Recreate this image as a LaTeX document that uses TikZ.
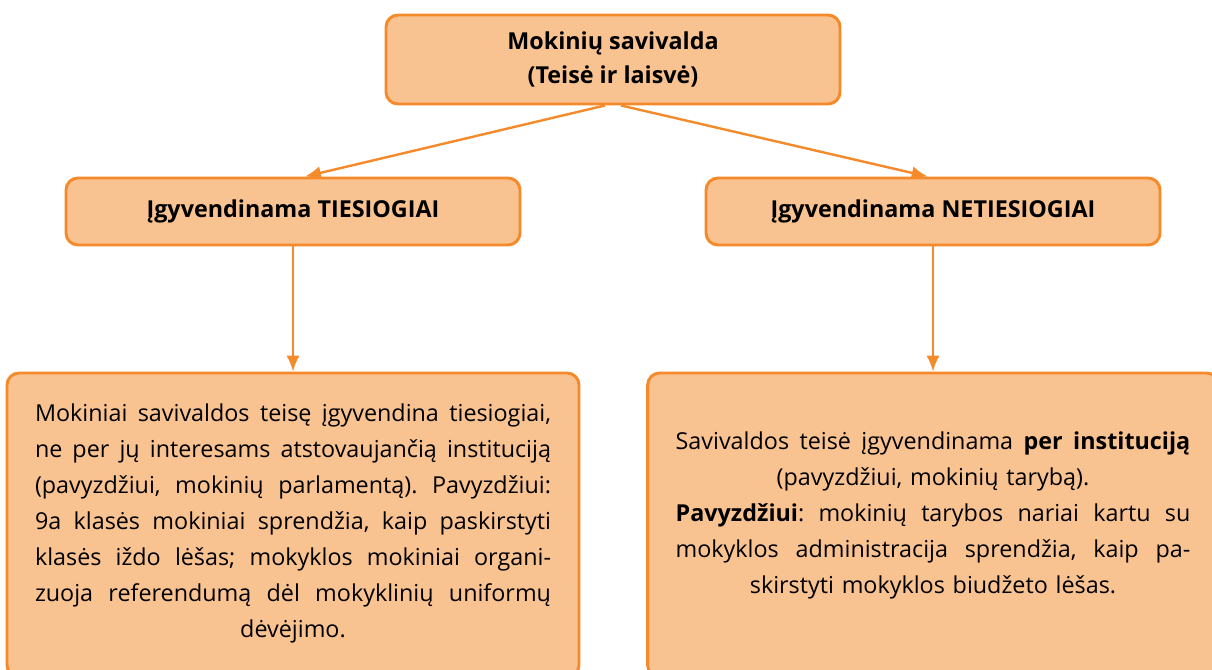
\documentclass[tikz,border=0pt]{standalone}
\usepackage{fontspec}
\setmainfont{Open Sans}
\usetikzlibrary{arrows.meta}
\definecolor{boxline}{HTML}{F58A2B}
\definecolor{boxfill}{HTML}{F9C291}
\newlength{\jwd}
\newcommand{\jline}[1]{\leavevmode\hbox to \jwd{\frenchspacing\spaceskip=.2em plus 1fil\relax #1}}
\begin{document}
\begin{tikzpicture}[x=0.75pt,y=-0.75pt,
  box/.style={draw=boxline,fill=boxfill,line width=2.2pt,rounded corners=9pt,inner sep=0pt},
  txt/.style={font=\fontsize{17.5}{27}\selectfont,align=center,inner sep=0pt},
  conn/.style={draw=boxline,line width=1.8pt,-{Latex[length=12pt,width=10pt]}}]
\clip (0,0) rectangle (1212,670);

\node[box,minimum width=340.5pt,minimum height=66.75pt,txt,font=\fontsize{17.5}{25.5}\selectfont] (top) at (613,59.5)
  {\bfseries Mokinių savivalda\\ \bfseries (Teisė ir laisvė)};

\node[box,minimum width=340.5pt,minimum height=50.25pt,txt] (lmid) at (293,211.5)
  {\bfseries Įgyvendinama TIESIOGIAI};
\node[box,minimum width=340.5pt,minimum height=50.25pt,txt] (rmid) at (933,211.5)
  {\bfseries Įgyvendinama NETIESIOGIAI};

\node[box,minimum width=429pt,minimum height=228pt] (lbox) at (293,525) {};
\node[box,minimum width=428pt,minimum height=228pt] (rbox) at (933,525) {};

\node[txt,text width=387pt,execute at begin node={\setlength{\jwd}{387pt}}] (ltext) at (293,523) {%
  \jline{Mokiniai savivaldos teisę įgyvendina tiesiogiai,}\\
  \jline{ne per jų interesams atstovaujančią instituciją}\\
  \jline{(pavyzdžiui, mokinių parlamentą). Pavyzdžiui:}\\
  \jline{9a klasės mokiniai sprendžia, kaip paskirstyti}\\
  \jline{klasės iždo lėšas; mokyklos mokiniai organi-}\\
  \jline{zuoja referendumą dėl mokyklinių uniformų}\\
  dėvėjimo.};

\node[txt,text width=386pt,execute at begin node={\setlength{\jwd}{386pt}}] (rtext) at (933,515) {%
  \jline{Savivaldos teisė įgyvendinama \textbf{per instituciją}}\\
  (pavyzdžiui, mokinių tarybą).\\
  \jline{\textbf{Pavyzdžiui}: mokinių tarybos nariai kartu su}\\
  \jline{mokyklos administracija sprendžia, kaip pa-}\\
  skirstyti mokyklos biudžeto lėšas.};

\draw[conn] ([xshift=-6pt]top.south) -- ([xshift=9pt]lmid.north);
\draw[conn] ([xshift=6pt]top.south) -- ([xshift=-4pt]rmid.north);
\draw[conn] (lmid.south) -- (lbox.north);
\draw[conn] (rmid.south) -- (rbox.north);

\end{tikzpicture}
\end{document}
